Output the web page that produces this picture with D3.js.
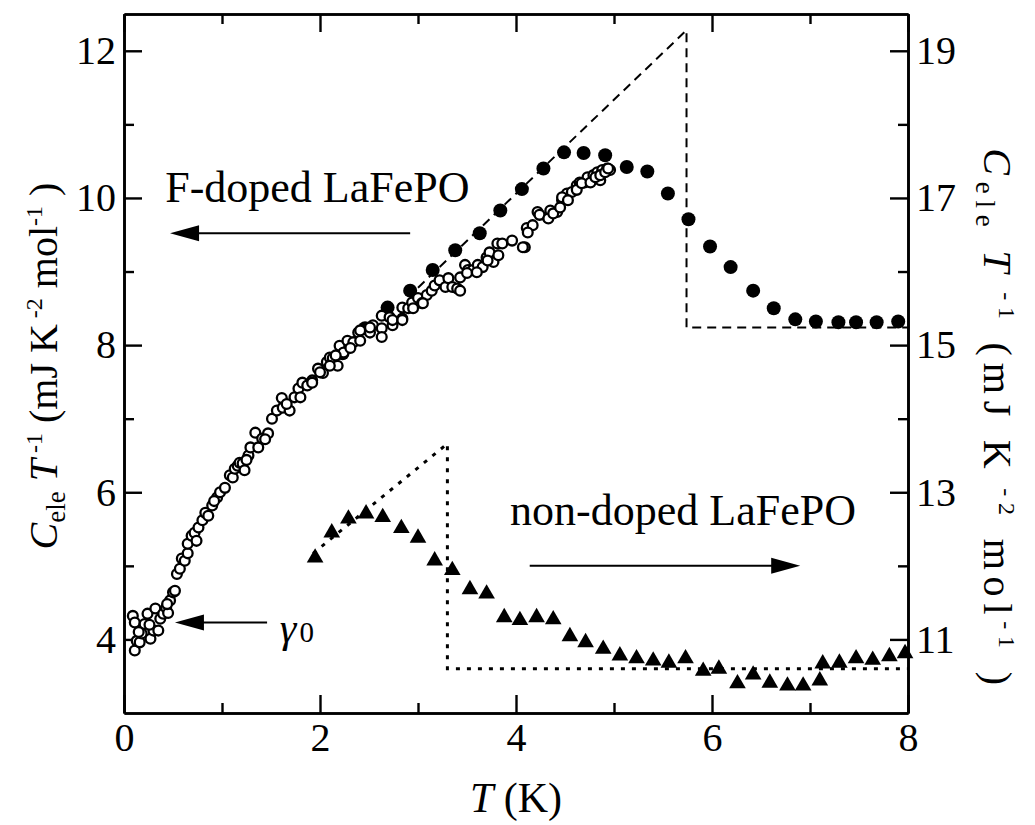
<!DOCTYPE html>
<html>
<head>
<meta charset="utf-8">
<script src="https://cdn.jsdelivr.net/npm/d3@7"></script>
<style>
  body { margin: 0; background: #fff; }
  svg text { font-family: "Liberation Serif", "Times New Roman", serif; fill: #000; }
</style>
</head>
<body>
<div id="chart"></div>
<script>
'use strict';

// ---------- data ---------- //
// F-doped LaFePO, open circles (left axis)
var openT = [0.09, 0.11, 0.11, 0.13, 0.16, 0.18, 0.21, 0.24, 0.27, 0.30, 0.32, 0.35, 0.37, 0.40, 0.43, 0.45, 0.47, 0.50, 0.52, 0.54,
  0.57, 0.59, 0.62, 0.65, 0.65, 0.69, 0.72, 0.74, 0.76, 0.80, 0.83, 0.86, 0.90, 0.95, 0.98, 1.03, 1.08, 1.11, 1.13, 1.16,
  1.18, 1.21, 1.23, 1.27, 1.29, 1.34, 1.37, 1.41, 1.47, 1.51, 1.56, 1.61, 1.62, 1.69, 1.74, 1.78, 1.82, 1.87, 1.92, 1.98,
  2.03, 2.07, 2.10, 2.13, 2.18, 2.20, 2.24, 2.28, 2.34, 2.39, 2.41, 2.51, 2.54, 2.63, 2.63, 2.71, 2.74, 2.84, 2.84, 2.90,
  2.94, 3.00, 3.04, 3.09, 3.14, 3.17, 3.22, 3.28, 3.31, 3.35, 3.40, 3.43, 3.48, 3.51, 3.56, 3.61, 3.66, 3.70, 3.73, 3.77,
  3.81, 3.86, 3.96, 4.09, 4.11, 4.17, 4.22, 4.32, 4.35, 4.42, 4.47, 4.52, 4.57, 4.62, 4.65, 4.70, 4.73, 4.79, 4.83, 4.86,
  4.88, 4.93, 4.96,
  1.80, 1.92, 2.10, 2.31, 2.41, 2.51, 2.63, 2.74, 2.84, 2.95, 3.05, 3.43, 3.50, 3.60, 3.71, 3.82, 4.07, 4.12, 4.24, 4.33,
  4.38, 4.45, 4.47, 4.53, 4.62, 4.67, 4.76, 4.81, 4.86, 4.91, 4.94, 0.15, 0.26, 0.44, 0.92, 1.25, 1.44, 1.66, 2.00, 2.16];
var openC = [4.32, 4.23, 3.85, 3.98, 3.96, 4.08, 4.21, 4.35, 4.01, 4.12, 4.42, 4.12, 4.28, 4.35, 4.43, 4.36, 4.53, 4.64, 4.66, 4.89,
  4.96, 5.10, 5.07, 5.17, 5.30, 5.41, 5.45, 5.34, 5.52, 5.62, 5.72, 5.68, 5.82, 5.93, 6.00, 6.06, 6.23, 6.20, 6.32, 6.36,
  6.40, 6.39, 6.30, 6.50, 6.61, 6.81, 6.61, 6.73, 6.80, 7.00, 7.11, 7.28, 7.15, 7.11, 7.29, 7.41, 7.49, 7.45, 7.52, 7.68,
  7.62, 7.77, 7.83, 7.82, 7.72, 7.99, 7.90, 8.06, 8.04, 8.17, 8.06, 8.17, 8.27, 8.23, 8.40, 8.38, 8.27, 8.36, 8.51, 8.50,
  8.58, 8.64, 8.57, 8.68, 8.74, 8.81, 8.88, 8.79, 8.91, 8.79, 8.77, 8.92, 9.09, 9.02, 9.02, 9.09, 9.06, 9.19, 9.26, 9.13,
  9.38, 9.38, 9.42, 9.33, 9.59, 9.63, 9.81, 9.74, 9.83, 9.81, 9.97, 10.06, 10.08, 10.17, 10.21, 10.21, 10.28, 10.31, 10.35, 10.24,
  10.38, 10.40, 10.38,
  7.29, 7.49, 7.72, 7.96, 8.20, 8.24, 8.11, 8.34, 8.34, 8.50, 8.57, 8.74, 8.98, 8.99, 9.15, 9.22, 9.33, 9.53, 9.77, 9.72,
  9.79, 9.87, 10.01, 9.97, 10.11, 10.20, 10.21, 10.28, 10.31, 10.35, 10.40, 4.10, 4.20, 4.48, 5.88, 6.44, 6.72, 7.20, 7.63, 7.86];

// F-doped LaFePO, filled circles (left axis)
var fillT = [2.23, 2.46, 2.69, 2.92, 3.15, 3.38, 3.63, 3.84, 4.06, 4.28, 4.49, 4.69, 4.91, 5.13, 5.34, 5.55, 5.76, 5.98, 6.19, 6.42,
  6.63, 6.85, 7.06, 7.29, 7.47, 7.68, 7.90];
var fillC = [7.89, 8.23, 8.51, 8.74, 9.02, 9.29, 9.52, 9.83, 10.12, 10.40, 10.62, 10.61, 10.58, 10.42, 10.36, 10.06, 9.71, 9.34, 9.06, 8.74,
  8.50, 8.35, 8.32, 8.31, 8.31, 8.31, 8.32];

// non-doped LaFePO, triangles (right axis)
var triT = [1.95, 2.12, 2.29, 2.47, 2.64, 2.83, 3.00, 3.17, 3.35, 3.53, 3.70, 3.88, 4.04, 4.21, 4.38, 4.55, 4.71, 4.89, 5.06, 5.23,
  5.40, 5.56, 5.73, 5.91, 6.07, 6.26, 6.42, 6.59, 6.77, 6.93, 7.10, 7.13, 7.30, 7.47, 7.64, 7.81, 7.97];
var triC = [12.11, 12.45, 12.64, 12.71, 12.66, 12.51, 12.38, 12.07, 11.94, 11.68, 11.62, 11.30, 11.26, 11.30, 11.27, 11.04, 10.96, 10.87, 10.78, 10.74,
  10.71, 10.68, 10.74, 10.57, 10.60, 10.40, 10.52, 10.41, 10.37, 10.37, 10.44, 10.67, 10.68, 10.74, 10.72, 10.77, 10.81];

// BCS-like fits
var fitDopedT = [3.0, 5.74, 5.74, 8.0];
var fitDopedC = [8.78, 12.28, 8.24, 8.24];
var fitNonT = [1.93, 3.30, 3.30, 8.0];
var fitNonC = [12.17, 13.66, 10.60, 10.60];

// axes
var xMajor = [0, 2, 4, 6, 8];
var xMinor = [1, 3, 5, 7];
var yLeftMajor = [4, 6, 8, 10, 12];
var yLeftMinor = [5, 7, 9, 11];
var yRightMajor = [11, 13, 15, 17, 19];
var yRightMinor = [12, 14, 16, 18];

// ---------- layout ---------- //
var width = 1035, height = 825;
var m = { left: 124, right: 908, top: 14, bottom: 713 };

var svg = d3.select('#chart').append('svg')
  .attr('width', width)
  .attr('height', height);

var x = d3.scaleLinear().domain([0, 8]).range([m.left, m.right]);
var yL = d3.scaleLinear().domain([3, 12.5]).range([m.bottom, m.top]);
var yR = d3.scaleLinear().domain([10, 19.5]).range([m.bottom, m.top]);

function styleAxis(g) {
  g.select('.domain').attr('stroke-width', 2.6);
  g.selectAll('.tick line').attr('stroke-width', 2.4);
  g.selectAll('.tick text').attr('font-size', 40).attr('font-family', '"Liberation Serif", serif');
}

// major + minor ticks on every side, pointing inwards
svg.append('g').attr('transform', 'translate(0,' + m.bottom + ')')
  .call(d3.axisBottom(x).tickValues(xMajor).tickSizeInner(-18).tickSizeOuter(0).tickPadding(10).tickFormat(d3.format('d')))
  .call(styleAxis);
svg.append('g').attr('transform', 'translate(0,' + m.bottom + ')')
  .call(d3.axisBottom(x).tickValues(xMinor).tickSizeInner(-10).tickSizeOuter(0).tickFormat(''))
  .call(styleAxis);
svg.append('g').attr('transform', 'translate(0,' + m.top + ')')
  .call(d3.axisTop(x).tickValues(xMajor).tickSizeInner(-18).tickSizeOuter(0).tickFormat(''))
  .call(styleAxis);
svg.append('g').attr('transform', 'translate(0,' + m.top + ')')
  .call(d3.axisTop(x).tickValues(xMinor).tickSizeInner(-10).tickSizeOuter(0).tickFormat(''))
  .call(styleAxis);

svg.append('g').attr('transform', 'translate(' + m.left + ',0)')
  .call(d3.axisLeft(yL).tickValues(yLeftMajor).tickSizeInner(-18).tickSizeOuter(0).tickPadding(8).tickFormat(d3.format('d')))
  .call(styleAxis);
svg.append('g').attr('transform', 'translate(' + m.left + ',0)')
  .call(d3.axisLeft(yL).tickValues(yLeftMinor).tickSizeInner(-10).tickSizeOuter(0).tickFormat(''))
  .call(styleAxis);
svg.append('g').attr('transform', 'translate(' + m.right + ',0)')
  .call(d3.axisRight(yR).tickValues(yRightMajor).tickSizeInner(-18).tickSizeOuter(0).tickPadding(8).tickFormat(d3.format('d')))
  .call(styleAxis);
svg.append('g').attr('transform', 'translate(' + m.right + ',0)')
  .call(d3.axisRight(yR).tickValues(yRightMinor).tickSizeInner(-10).tickSizeOuter(0).tickFormat(''))
  .call(styleAxis);

// ---------- fit lines ---------- //
var lineL = d3.line().x(function (d) { return x(d[0]); }).y(function (d) { return yL(d[1]); });
var lineR = d3.line().x(function (d) { return x(d[0]); }).y(function (d) { return yR(d[1]); });

svg.append('path')
  .attr('d', lineL(d3.zip(fitDopedT, fitDopedC)))
  .attr('fill', 'none').attr('stroke', '#000').attr('stroke-width', 2)
  .attr('stroke-dasharray', '9,6');
svg.append('path')
  .attr('d', lineR(d3.zip(fitNonT, fitNonC)))
  .attr('fill', 'none').attr('stroke', '#000').attr('stroke-width', 3)
  .attr('stroke-dasharray', '4,7');

// ---------- markers ---------- //
svg.append('g').selectAll('circle')
  .data(d3.zip(fillT, fillC))
  .enter().append('circle')
  .attr('cx', function (d) { return x(d[0]); })
  .attr('cy', function (d) { return yL(d[1]); })
  .attr('r', 7)
  .attr('fill', '#000');

svg.append('g').selectAll('circle')
  .data(d3.zip(openT, openC))
  .enter().append('circle')
  .attr('cx', function (d) { return x(d[0]); })
  .attr('cy', function (d) { return yL(d[1]); })
  .attr('r', 4.9)
  .attr('fill', '#fff')
  .attr('stroke', '#000')
  .attr('stroke-width', 2.3);

var tri = d3.symbol().type(d3.symbolTriangle).size(120);
svg.append('g').selectAll('path')
  .data(d3.zip(triT, triC))
  .enter().append('path')
  .attr('d', tri)
  .attr('transform', function (d) { return 'translate(' + x(d[0]) + ',' + yR(d[1]) + ')'; })
  .attr('fill', '#000');

// ---------- annotations ---------- //
function arrow(x1, y1, x2, y2) {
  // line from (x1,y1) to the head at (x2,y2), horizontal arrows only
  var dir = x2 > x1 ? 1 : -1;
  var hl = 29, hw = 8;
  svg.append('line')
    .attr('x1', x1).attr('y1', y1).attr('x2', x2 - dir * hl + dir * 2).attr('y2', y2)
    .attr('stroke', '#000').attr('stroke-width', 2);
  svg.append('path')
    .attr('d', 'M' + x2 + ',' + y2 + 'L' + (x2 - dir * hl) + ',' + (y2 - hw) + 'L' + (x2 - dir * hl) + ',' + (y2 + hw) + 'Z')
    .attr('fill', '#000');
}

arrow(x(2.92), yL(9.52), x(0.47), yL(9.52));
arrow(x(1.46), yL(4.23), x(0.52), yL(4.23));
arrow(x(4.14), yR(12.0), x(6.9), yR(12.0));

svg.append('text')
  .attr('x', x(0.42)).attr('y', yL(9.94))
  .attr('font-size', 44)
  .text('F-doped LaFePO');

svg.append('text')
  .attr('x', x(3.94)).attr('y', yR(12.55))
  .attr('font-size', 44)
  .text('non-doped LaFePO');

var g0 = svg.append('text')
  .attr('x', x(1.59)).attr('y', yL(3.96))
  .attr('font-size', 42);
g0.append('tspan').attr('font-style', 'italic').text('γ');
g0.append('tspan').attr('font-size', 29).attr('dx', 3).text('0');

// ---------- axis titles ---------- //
function yTitle(sel) {
  sel.append('tspan').attr('font-style', 'italic').text('C');
  sel.append('tspan').attr('font-size', 27).attr('dy', 8).text('ele');
  sel.append('tspan').attr('font-style', 'italic').attr('dy', -8).text(' T');
  sel.append('tspan').attr('font-size', 24).attr('dy', -15).text(' -1');
  sel.append('tspan').attr('dy', 15).text(' (mJ K');
  sel.append('tspan').attr('font-size', 24).attr('dy', -15).text(' -2');
  sel.append('tspan').attr('dy', 15).text(' mol');
  sel.append('tspan').attr('font-size', 24).attr('dy', -15).text('-1');
  sel.append('tspan').attr('dy', 15).text(' )');
}

svg.append('text')
  .attr('transform', 'translate(57,' + 366 + ') rotate(-90)')
  .attr('text-anchor', 'middle')
  .attr('font-size', 40)
  .call(yTitle);

svg.append('text')
  .attr('transform', 'translate(984,' + 420 + ') rotate(90)')
  .attr('text-anchor', 'middle')
  .attr('font-size', 40)
  .attr('letter-spacing', 6.8)
  .call(yTitle);

var xt = svg.append('text')
  .attr('x', (m.left + m.right) / 2).attr('y', 812)
  .attr('text-anchor', 'middle')
  .attr('font-size', 42);
xt.append('tspan').attr('font-style', 'italic').text('T');
xt.append('tspan').text(' (K)');
</script>
</body>
</html>
